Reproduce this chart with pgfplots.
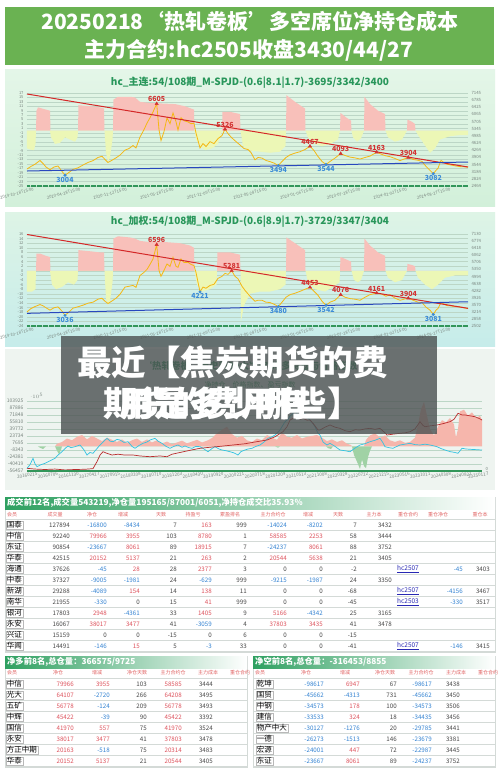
\documentclass[border=0pt]{standalone}
\usepackage{pgfplots}
\pgfplotsset{compat=1.18}
\usepackage{fontspec}
\setmainfont{Noto Sans CJK SC}
\definecolor{banner}{RGB}{106,178,82}
\definecolor{ttlg}{RGB}{40,150,90}
\definecolor{bgat}{RGB}{228,246,232}
\definecolor{bgab}{RGB}{210,240,218}
\definecolor{bgbt}{RGB}{222,244,230}
\definecolor{bgbb}{RGB}{198,236,234}
\definecolor{bgc}{RGB}{238,244,240}
\definecolor{gridc}{RGB}{188,214,198}
\definecolor{tickc}{RGB}{120,132,126}
\definecolor{areared}{RGB}{248,192,186}
\definecolor{areayel}{RGB}{236,247,182}
\definecolor{pricec}{RGB}{244,184,20}
\definecolor{trendr}{RGB}{212,40,40}
\definecolor{trendb}{RGB}{40,72,190}
\definecolor{barg}{RGB}{50,150,90}
\definecolor{mred}{RGB}{210,50,50}
\definecolor{mblue}{RGB}{60,140,215}
\definecolor{cyanl}{RGB}{50,195,225}
\definecolor{darkr}{RGB}{185,45,45}
\definecolor{pinka}{RGB}{246,182,172}
\definecolor{greena}{RGB}{160,210,165}
\definecolor{pred}{RGB}{222,82,92}
\definecolor{nblue}{RGB}{50,130,210}
\definecolor{zgray}{RGB}{70,70,70}
\definecolor{hdrred}{RGB}{225,100,100}
\definecolor{rulec}{RGB}{212,218,215}
\definecolor{thg}{RGB}{46,160,96}
\definecolor{linkc}{RGB}{40,40,180}
\definecolor{ovl}{RGB}{78,84,84}
\pgfplotsset{
 base/.style={scale only axis, clip=false, axis line style={draw=none}, tick style={draw=none},
   /pgf/number format/assume math mode=true, /pgf/number format/1000 sep={}},
 leftax/.style={base, ymajorgrids, grid style={gridc,line width=0.3pt},
   yticklabel style={font=\fontsize{4}{4}\selectfont, text=tickc}},
 rightax/.style={base, xtick=\empty, yticklabel pos=right,
   yticklabel style={font=\fontsize{4.3}{4.5}\selectfont, text=tickc}},
 redmk/.style={only marks, mark=triangle*, mark size=1.9pt, color=mred, point meta=y,
   nodes near coords={\pgfmathprintnumber[fixed,precision=0,1000 sep={}]{\pgfplotspointmeta}},
   every node near coord/.append style={font=\bfseries\fontsize{7}{7}\selectfont, text=mred, inner sep=1.5pt}},
 bluemk/.style={only marks, mark=*, mark size=1.3pt, color=mblue, point meta=y,
   nodes near coords={\pgfmathprintnumber[fixed,precision=0,1000 sep={}]{\pgfplotspointmeta}},
   nodes near coords align={below},
   every node near coord/.append style={font=\bfseries\fontsize{7}{7}\selectfont, text=mblue, inner sep=1.5pt}},
}
\newcommand\cv[1]{\ifnum#1<0 \textcolor{nblue}{#1}\else\ifnum#1>0 \textcolor{pred}{#1}\else\textcolor{zgray}{#1}\fi\fi}
\tikzset{num/.style={anchor=east, inner sep=0pt, font=\fontsize{6.2}{7}\selectfont, text=zgray},
 namec/.style={anchor=west, draw=gray!55, line width=0.3pt, inner xsep=0.8pt, inner ysep=0.4pt, font=\fontsize{7.5}{8}\selectfont},
 hdr/.style={inner sep=0pt, font=\fontsize{5}{5}\selectfont, text=hdrred},
 lnk/.style={inner sep=0pt, font=\fontsize{6.5}{7}\selectfont, text=linkc}}
\newcommand\rowAl[8]{%
 \node[namec] at (6,-#1) {#2};
 \node[num] at (70,-#1) {#3};
 \node[num] at (107,-#1) {\cv{#4}};
 \node[num] at (140,-#1) {\cv{#5}};
 \node[num] at (177,-#1) {#6};
 \node[num] at (212,-#1) {\cv{#7}};
 \node[num] at (247,-#1) {#8};}
\newcommand\rowAr[5]{%
 \node[num] at (287,-#1) {\cv{#2}};
 \node[num] at (323,-#1) {\cv{#3}};
 \node[num] at (357,-#1) {#4};
 \node[num] at (392,-#1) {#5};}
\newcommand\rowAh[4]{%
 \node[lnk] at (408,-#1) {\underline{#2}};
 \node[num] at (463,-#1) {\cv{#3}};
 \node[num] at (490,-#1) {#4};}
\newcommand\rowB[7]{%
 \node[namec] at (#1+6,-#2) {#3};
 \node[num] at (#1+74,-#2) {\cv{#4}};
 \node[num] at (#1+110,-#2) {\cv{#5}};
 \node[num] at (#1+147,-#2) {#6};
 \node[num] at (#1+182,-#2) {\cv{#7}};}
\begin{document}
\begin{tikzpicture}[x=1pt,y=1pt]
\useasboundingbox (0,0) rectangle (500,-772);
\fill[white] (0,0) rectangle (500,-772);
% ---------- banner
\fill[banner] (5,-7) rectangle (494,-65);
\node[text=white, font=\bfseries\fontsize{21}{22}\selectfont] at (250,-21.5) {20250218‘热轧卷板’多空席位净持仓成本};
\node[text=white, font=\bfseries\fontsize{21}{22}\selectfont] at (249,-50) {主力合约:hc2505收盘3430/44/27};
% ---------- chart 1
\shade[top color=bgat, bottom color=bgab] (5,-69) rectangle (495,-206);
\node[text=ttlg, font=\bfseries\fontsize{10}{11}\selectfont] at (250,-83) {hc\_主连:54/108期\_M-SPJD-(0.6|8.1|1.7)-3695/3342/3400};
\begin{axis}[leftax, at={(27pt,-186pt)}, anchor=south west, width=441pt, height=93pt,
 xmin=27, xmax=468, ymin=-25, ymax=17, ytick={-25,-23,...,17},
 xtick={34,80.7,127.3,174,220.7,267.3,314,360.7,407.3,450.7},
 xticklabels={2019-10-18T15:00,2020-04-28T15:00,2020-11-12T15:00,2021-05-28T15:00,2021-12-09T15:00,2022-05-28T15:00,2023-01-06T15:00,2023-07-28T15:00,2024-02-02T15:00,2024-08-27T15:00},
 xticklabel style={font=\fontsize{4.2}{4.5}\selectfont, text=tickc, rotate=15, anchor=north east, inner sep=1pt}]
\addplot[draw=none, fill=areared] coordinates {(27,0)(36,0)(36.5,9)(38,10.5)(42,10)(46,9.5)(50,9)(50.5,0)
 (78,0)(78.5,11.5)(90,11)(100,10.5)(104,10)(104.5,0)
 (113,0)(113.5,14)(118,15.3)(130,15.3)(135,15)(140,13)(150,12.5)(160,12.3)(175,12)(185,11)(194,9.5)(194.5,0)
 (222,0)(222.5,8.5)(230,8.5)(240,7.5)(240.5,0)
 (286,0)(286.5,16)(295,13)(305,10)(305.5,0)
 (340,0)(340.5,8)(346,6)(351,4.5)(351.5,0)
 (364,0)(364.5,15.3)(370,12)(378,9)(385,7.5)(385.5,0)
 (407,0)(407.5,5)(412,4)(415,3)(415.5,0)(468,0)};
\addplot[draw=none, fill=areayel] coordinates {(27,0)(27,-8)(30,-8.5)(34,-8.8)(35.5,-6)(36,0)
 (50,0)(51,-3)(55,-6)(60,-5.5)(65,-3)(70,-4)(75,-5)(77.5,-3)(78,0)
 (104.5,0)(106,-10)(108,-14)(110,-12)(112.5,-4)(113,0)
 (194.5,0)(196,-4)(200,-7)(205,-8.8)(212,-8)(218,-6)(222,0)
 (240.5,0)(243,-7)(250,-9)(260,-9.5)(270,-10)(280,-9.5)(285.5,-7)(286,0)
 (305.5,0)(308,-3)(315,-6)(322,-7)(330,-6)(338,-4)(340,0)
 (351.5,0)(353,-3)(357,-5)(361,-3.5)(364,0)
 (385.5,0)(388,-3)(395,-5)(402,-4)(407,0)
 (415.5,0)(418,-2)(424,-6)(430,-10)(435,-8)(440,-4)(450,-2.5)(460,-2)(468,-2)(468,0)};
\addplot[barg, line width=2pt, dash pattern=on 0.8pt off 0.4pt] coordinates {(27,-25)(468,-25)};
\end{axis}
\begin{axis}[rightax, at={(27pt,-186pt)}, anchor=south west, width=441pt, height=93pt,
 xmin=27, xmax=468, ymin=2464, ymax=7145,
 ytick={2464,2824,3184,3544,3904,4264,4624,4985,5345,5705,6065,6425,6785,7145}]
\addplot[pricec, line width=0.8pt] coordinates {(27,3320)(31,3450)(35,3560)(40,3750)(43,3600)(46,3420)(50,3280)(54,3420)(58,3470)(62,3200)(65,3004)(69,3150)(73,3300)(78,3380)(83,3520)(88,3650)(93,3740)(98,3900)(102,3960)(105,3800)(108,3650)(112,3760)(116,3880)(120,4020)(125,4270)(129,4350)(133,4500)(136,4380)(140,4930)(144,5300)(147,5630)(150,5900)(153,6190)(156.7,6605)(159,5300)(161,4750)(164,5200)(167,5890)(170,5600)(173,6140)(176,5700)(178,5280)(181,5900)(184,5750)(188,5690)(191,5600)(194,5620)(196,5130)(200,4380)(203,4600)(206,4450)(210,4700)(214,4600)(218,4850)(222,5000)(225,5326)(228,5100)(232,4880)(236,4700)(240,4530)(244,4350)(248,4300)(251,4150)(255,3780)(258,3900)(262,3870)(266,3750)(270,3690)(274,3620)(278.3,3494)(282,3700)(286,3900)(290,4030)(295,4120)(300,4190)(305,4300)(310,4467)(314,4250)(318,3950)(322,3700)(326,3544)(330,3700)(335,3870)(340.7,4093)(345,4000)(350,3920)(355,3880)(360,3820)(365,3900)(370,3970)(376.7,4163)(382,4050)(386,3980)(390,3940)(395,3850)(400,3740)(404,3820)(408.3,3904)(413,3800)(418,3760)(422,3700)(426,3450)(430,3250)(433.3,3082)(436,3250)(438,3360)(441,3750)(444,3650)(447,3560)(451,3520)(455,3480)(460,3440)(464,3430)(468,3410)};
\addplot[trendr, line width=1pt] coordinates {(27,7095)(468,3421)};
\addplot[trendb, line width=1pt] coordinates {(27,3219)(468,3672)};
\addplot[redmk] coordinates {(156.7,6605)(225,5326)(310,4467)(340.7,4093)(376.7,4163)(408.3,3904)};
\addplot[bluemk] coordinates {(65,3004)(278.3,3494)(326,3544)(433.3,3082)};
\end{axis}
% ---------- chart 2
\shade[top color=bgbt, bottom color=bgbb] (5,-212) rectangle (495,-346);
\node[text=ttlg, font=\bfseries\fontsize{10}{11}\selectfont] at (250,-222) {hc\_加权:54/108期\_M-SPJD-(0.6|8.9|1.7)-3729/3347/3404};
\begin{axis}[leftax, at={(27pt,-326pt)}, anchor=south west, width=441pt, height=92pt,
 xmin=27, xmax=468, ymin=-24, ymax=16, ytick={-24,-22,...,16},
 xtick={34,80.7,127.3,174,220.7,267.3,314,360.7,407.3,450.7},
 xticklabels={2019-10-18T15:00,2020-04-28T15:00,2020-11-12T15:00,2021-05-28T15:00,2021-12-09T15:00,2022-05-28T15:00,2023-01-06T15:00,2023-07-28T15:00,2024-02-02T15:00,2024-08-27T15:00},
 xticklabel style={font=\fontsize{4.2}{4.5}\selectfont, text=tickc, rotate=15, anchor=north east, inner sep=1pt}]
\addplot[draw=none, fill=areared] coordinates {(27,0)(36,0)(36.5,7.5)(40,7.5)(46,6.5)(50,6)(50.5,0)
 (78,0)(78.5,9)(90,8.5)(100,8)(104,8)(104.5,0)
 (113,0)(113.5,14)(118,15)(130,14.5)(135,14)(140,13)(150,12.5)(165,12.5)(180,12)(190,11)(194,10)(194.5,0)
 (217,0)(217.5,8)(230,8)(240,7)(240.5,0)
 (286,0)(286.5,14.5)(295,12)(305,9)(305.5,0)
 (340,0)(340.5,6)(346,5)(351,4)(351.5,0)
 (364,0)(364.5,14)(370,11)(378,8)(385,6.5)(385.5,0)
 (407,0)(407.5,3)(412,2.5)(415,2)(415.5,0)(468,0)};
\addplot[draw=none, fill=areayel] coordinates {(27,0)(27,-9)(32,-9)(35.5,-8)(36,0)
 (50,0)(52,-6)(56,-8)(62,-7)(68,-5)(74,-6)(77.5,-4)(78,0)
 (104.5,0)(106,-12)(108,-15)(110,-13)(112.5,-5)(113,0)
 (194.5,0)(197,-6)(202,-9)(210,-8)(216.5,-6)(217,0)
 (240.5,0)(241,-22)(244,-15)(250,-10)(260,-9)(270,-9)(280,-8)(285.5,-6)(286,0)
 (305.5,0)(308,-5)(315,-8)(325,-9)(333,-7)(339.5,-5)(340,0)
 (351.5,0)(354,-4)(358,-5)(361,-4)(364,0)
 (385.5,0)(388,-3)(395,-5)(402,-4)(407,0)
 (415.5,0)(418,-3)(425,-6)(432,-8)(438,-6)(445,-3)(455,-2)(468,-2)(468,0)};
\addplot[barg, line width=2pt, dash pattern=on 0.8pt off 0.4pt] coordinates {(27,-24)(468,-24)};
\end{axis}
\begin{axis}[rightax, at={(27pt,-326pt)}, anchor=south west, width=441pt, height=92pt,
 xmin=27, xmax=468, ymin=2502, ymax=7130,
 ytick={2502,2858,3214,3570,3926,4282,4638,4994,5350,5706,6062,6418,6774,7130}]
\addplot[pricec, line width=0.8pt] coordinates {(27,3214)(31,3380)(35,3480)(40,3583)(43,3520)(46,3420)(50,3299)(54,3420)(58,3463)(62,3250)(65,3036)(69,3200)(73,3400)(78,3470)(83,3550)(88,3650)(93,3700)(98,3850)(102,3900)(105,3750)(108,3633)(112,3760)(116,3900)(120,4100)(125,4460)(129,4500)(133,4544)(136,4450)(140,5043)(144,5200)(147,5350)(150,5600)(153,5874)(156.7,6596)(159,5300)(161,5000)(164,5300)(167,5625)(170,5500)(173,5954)(176,5500)(178,5456)(181,5874)(184,5700)(188,5705)(191,5600)(194,5540)(196,5200)(200,4221)(203,4460)(206,4400)(210,4544)(214,4600)(218,4900)(222,5000)(225,5150)(228,5100)(231.7,5281)(235,5000)(238,4878)(242,4500)(245,4296)(250,4000)(255,3747)(258,3800)(262,3797)(266,3700)(270,3683)(274,3600)(278.3,3480)(282,3700)(286,3950)(290,4079)(295,4150)(300,4246)(305,4350)(310,4453)(314,4250)(318,4046)(322,3750)(326,3542)(330,3700)(335,3797)(340.7,4076)(345,3950)(350,3881)(355,3850)(360,3797)(365,3950)(370,4079)(376.7,4161)(382,4100)(386,4000)(390,4079)(395,3900)(400,3797)(404,3850)(408.3,3904)(413,3800)(418,3700)(422,3683)(426,3450)(430,3299)(433.3,3081)(436,3300)(438,3384)(441,3683)(444,3600)(447,3530)(451,3513)(455,3480)(460,3463)(464,3420)(468,3384)};
\addplot[trendr, line width=1pt] coordinates {(27,7105)(468,3390)};
\addplot[trendb, line width=1pt] coordinates {(27,3139)(468,3722)};
\addplot[redmk] coordinates {(156.7,6596)(231.7,5281)(310,4453)(340.7,4076)(376.7,4161)(408.3,3904)};
\addplot[bluemk] coordinates {(65,3036)(200,4221)(278.3,3480)(326,3542)(433.3,3081)};
\end{axis}
% ---------- chart 3
\fill[bgc] (5,-349) rectangle (495,-490);
\node[text=ttlg, font=\bfseries\fontsize{9.5}{10}\selectfont] at (250,-366) {‘热轧卷板’历史前20大净空/净多持仓与价格指数};
\node[text=ttlg, font=\fontsize{7}{8}\selectfont] at (250,-385) {净持仓、价格指数、盈亏指数};
\begin{axis}[leftax, at={(27pt,-471pt)}, anchor=south west, width=455pt, height=70pt,
 xmin=27, xmax=482, ymin=-56457, ymax=103925,
 ytick={-56457,-40419,-24381,-8343,7695,23734,39772,55810,71848,87886,103925},
 yticklabels={-56457,-40419,-24381,-8343,7695,23734,39772,55810,71848,87886,103925},
 yticklabel style={font=\fontsize{5}{5}\selectfont},
 xtick={27,47.7,68.4,89.0,109.7,130.4,151.1,171.8,192.5,213.1,233.8,254.5,275.2,295.9,316.6,337.2,357.9,378.6,399.3,420.0,440.7,461.3,478},
 xticklabels={20160215,20160706,20161130,20170427,20170915,20180208,20180710,20181203,20190430,20190920,20200221,20200718,20201209,20210513,20211008,20220328,20220722,20221215,20230516,20231011,20240308,20240822,20250117},
 xticklabel style={font=\fontsize{4.6}{5}\selectfont, text=tickc, rotate=8, inner sep=1pt, yshift=-1.5pt}]
\addplot[draw=none, fill=pinka] coordinates {(55,0)(57,6000)(62,10000)(67,18000)(72,14000)(77,22000)(82,26000)(87,16000)(92,24000)(97,18000)(102,12000)(107,20000)(112,15000)(117,10000)(122,16000)(127,8000)(132,14000)(137,18000)(142,10000)(147,16000)(152,9000)(157,14000)(162,7000)(167,11000)(172,5000)(177,9000)(182,13000)(187,7000)(192,11000)(197,15000)(202,9000)(207,13000)(212,19000)(217,30000)(222,38000)(227,45000)(232,28000)(237,20000)(242,24000)(247,14000)(252,10000)(257,18000)(262,14000)(267,26000)(272,20000)(277,15000)(282,32000)(287,22000)(292,20000)(297,26000)(302,18000)(307,22000)(312,24000)(317,26000)(322,20000)(327,12000)(332,16000)(337,10000)(342,14000)(347,6000)(351,3000)(352,0)(364,0)(366,15000)(370,25000)(375,30000)(380,20000)(385,25000)(390,14000)(395,10000)(400,14000)(405,8000)(410,10000)(415,20000)(418,50000)(421,85000)(424,102000)(427,70000)(430,40000)(434,25000)(438,45000)(442,60000)(446,55000)(450,65000)(454,50000)(456,20000)(458,40000)(460,80000)(464,84000)(468,70000)(472,78000)(476,65000)(480,70000)(482,60000)(482,0)};
\addplot[draw=none, fill=greena] coordinates {(38,0)(40,-3000)(43,-6000)(45,-2000)(46,0)(55,0)(57,-10000)(59,-18000)(61,-8000)(62,0)(275,0)(278,-3000)(280,0)(326,0)(328,-4000)(331,-6000)(333,0)(352,0)(354,-20000)(357,-35000)(360,-52000)(362,-30000)(364,-45000)(366,-50000)(368,-25000)(370,-10000)(372,0)};
\addplot[cyanl, line width=0.7pt] coordinates {(27,-50280)(30,-42000)(33,-27360)(35,-40000)(37,-46600)(41,-42000)(45,-38820)(50,-33000)(55,-27360)(58,-20000)(62,-12240)(65,-5000)(68,825)(71,-3000)(75,-780)(80,3110)(84,-8000)(87,-19800)(90,-14000)(93,-15900)(97,-5000)(100,3110)(104,12000)(107,18450)(110,12000)(113,10700)(117,16000)(120,14570)(124,9000)(128,10700)(132,0)(135,-4450)(139,2000)(143,7000)(147,10000)(150,14570)(155,18450)(158,12000)(162,7000)(166,0)(170,-4450)(174,0)(178,3110)(182,-2000)(185,825)(189,-3000)(192,-4450)(196,0)(200,-780)(204,-6000)(208,-12240)(212,-5000)(215,-780)(219,-6000)(222,-8340)(226,-10000)(230,-12240)(234,-15000)(238,-19800)(241,-12000)(245,-8340)(248,-6000)(252,-4450)(256,0)(260,3110)(264,10000)(268,18450)(272,22000)(275,26000)(280,37480)(285,56500)(288,62000)(290,69560)(293,75000)(295,81000)(298,72000)(300,67950)(303,72000)(305,75750)(308,66000)(310,60400)(313,52000)(315,45050)(318,30000)(320,26000)(323,10000)(327,3110)(330,7000)(335,0)(340,-8340)(345,-10000)(350,-12240)(355,-4000)(360,3110)(365,6000)(370,10700)(375,14000)(380,18450)(383,8000)(385,-780)(389,-3000)(393,-4450)(397,0)(400,3110)(405,5000)(410,7000)(415,4000)(420,3110)(425,5000)(430,3110)(434,1000)(437,-780)(441,-5000)(445,-8340)(450,-12000)(455,-14000)(458,-15900)(462,-4450)(466,-6000)(470,-6740)(476,-7500)(482,-8340)};
\addplot[darkr, line width=0.7pt] coordinates {(27,-50280)(35,-52000)(45,-53000)(55,-52000)(65,-54000)(75,-53000)(85,-52500)(93,-51000)(97,-35000)(100,-20000)(103,-12240)(107,-16000)(112,-19800)(118,-18000)(125,-20000)(133,-19800)(140,-22000)(150,-23700)(160,-22000)(167,-23700)(172,-18000)(180,-14000)(190,-9000)(200,-4450)(210,-2000)(220,0)(233,3110)(245,6000)(255,10000)(267,14570)(275,22000)(283,33600)(287,45000)(290,60400)(294,65000)(297,67950)(300,62000)(303,64300)(307,60000)(310,60400)(314,50000)(318,37480)(320,37480)(325,44000)(330,48930)(335,44000)(340,41300)(345,36000)(350,33600)(355,38000)(360,37480)(365,40000)(370,41300)(375,39000)(380,41300)(384,33000)(387,26000)(393,28000)(400,29900)(405,31000)(410,33600)(415,40000)(420,56500)(423,48000)(425,45050)(430,47000)(437,48930)(443,52000)(450,56500)(454,62000)(458,75750)(462,72000)(465,71850)(470,70000)(475,67950)(479,64000)(482,60400)};
\addplot[barg, line width=2.2pt] coordinates {(27,-56457)(482,-56457)};
\end{axis}
\begin{axis}[rightax, at={(27pt,-471pt)}, anchor=south west, width=455pt, height=70pt,
 xmin=27, xmax=482, ymin=0, ymax=100, ytick={0},
 yticklabel style={yshift=2pt}]
\addplot[draw=none] coordinates {(27,0)};
\end{axis}
% overlay
\fill[ovl, opacity=0.82] (61,-336) rectangle (437,-434);
\node[anchor=west, text=white, inner sep=0pt, font=\bfseries\fontsize{34.5}{36}\selectfont] at (77,-362) {最近【焦炭期货的费};
\node[anchor=east, text=white, inner sep=0pt, font=\bfseries\fontsize{34.5}{36}\selectfont] at (362,-403) {用是多少哪些】};
\node[anchor=west, text=white, inner sep=0pt, font=\bfseries\fontsize{34.5}{36}\selectfont] at (103,-403) {期货的费用有};
% ---------- table 1
\draw[rulec, line width=0.4pt] (5,-497) rectangle (495,-652);
\shade[left color=thg, middle color=thg!75!white, right color=white] (5,-497) rectangle (495,-509);
\node[anchor=west, text=white, inner sep=0pt, font=\bfseries\fontsize{8.3}{9}\selectfont] at (7,-503) {成交前12名,成交量543219,净仓量195165/87001/6051,净持仓成交比35.93\%};
\foreach \k in {0,...,12} {\draw[rulec, line width=0.4pt] (5,-519.5-11*\k) -- (495,-519.5-11*\k);}
\foreach \xx/\tt in {12/会员,55/成交量,92/净仓,123/增减,161/天数,193/持盈亏,230/累盈排名,273/主力合约仓,308/增减,338/天数,374/主力本,408/重仓合约,438/重仓净仓,480/重仓本}
  {\node[hdr] at (\xx,-514.5) {\tt};}
\rowAl{525}{国泰}{127894}{-16800}{-8434}{7}{163}{999}\rowAr{525}{-14024}{-8202}{7}{3432}
\rowAl{536}{中信}{92240}{79966}{3955}{103}{8780}{1}\rowAr{536}{58585}{2253}{58}{3444}
\rowAl{547}{东证}{90854}{-23667}{8061}{89}{18915}{7}\rowAr{547}{-24237}{8061}{88}{3752}
\rowAl{558}{华泰}{42515}{20152}{5137}{21}{263}{2}\rowAr{558}{20544}{5638}{21}{3405}
\rowAl{569}{海通}{37626}{-45}{28}{28}{2377}{3}\rowAr{569}{0}{0}{-2}{}\rowAh{569}{hc2507}{-45}{3403}
\rowAl{580}{中泰}{37327}{-9005}{-1981}{24}{-629}{999}\rowAr{580}{-9215}{-1987}{24}{3350}
\rowAl{591}{新湖}{29288}{-4089}{154}{14}{138}{11}\rowAr{591}{0}{0}{-68}{}\rowAh{591}{hc2507}{-4156}{3467}
\rowAl{602}{南华}{21955}{-330}{0}{15}{41}{999}\rowAr{602}{0}{0}{-45}{}\rowAh{602}{hc2503}{-330}{3517}
\rowAl{613}{银河}{17803}{2948}{-4361}{33}{1405}{9}\rowAr{613}{5166}{-4342}{25}{3165}
\rowAl{624}{永安}{16067}{38017}{3477}{41}{-3059}{4}\rowAr{624}{37803}{3435}{41}{3478}
\rowAl{635}{兴证}{15159}{0}{0}{-15}{0}{6}\rowAr{635}{0}{0}{-15}{}
\rowAl{646}{华闻}{14491}{-146}{15}{5}{-3}{33}\rowAr{646}{0}{0}{-41}{}\rowAh{646}{hc2507}{-146}{3415}
% ---------- table 2 and 3
\foreach \ox/\ttl in {0/{净多前8名,总仓量：366575/9725},248/{净空前8名,总仓量：-316453/8855}} {
  \draw[rulec, line width=0.4pt] (\ox+5,-656) rectangle (\ox+247,-767);
  \shade[left color=thg, middle color=thg!70!white, right color=white] (\ox+5,-656) rectangle (\ox+247,-668);
  \node[anchor=west, text=white, inner sep=0pt, font=\bfseries\fontsize{8.3}{9}\selectfont] at (\ox+7,-662) {\ttl};
  \foreach \k in {0,...,8} {\draw[rulec, line width=0.4pt] (\ox+5,-678.5-11*\k) -- (\ox+247,-678.5-11*\k);}
  \foreach \xx/\tt in {12/会员,58/净仓,97/增减,137/净仓天数,173/主力合约仓,208/主力成本,240/重仓合约}
    {\node[hdr] at (\ox+\xx,-673) {\tt};}
}
\rowB{0}{684}{中信}{79966}{3955}{103}{58585}\node[num] at (213,-684) {3444};
\rowB{0}{695}{光大}{64107}{-2720}{266}{64208}\node[num] at (213,-695) {3495};
\rowB{0}{706}{五矿}{56778}{-124}{209}{56778}\node[num] at (213,-706) {3493};
\rowB{0}{717}{中辉}{45422}{-39}{90}{45422}\node[num] at (213,-717) {3392};
\rowB{0}{728}{国信}{41970}{557}{75}{41970}\node[num] at (213,-728) {3524};
\rowB{0}{739}{永安}{38017}{3477}{41}{37803}\node[num] at (213,-739) {3478};
\rowB{0}{750}{方正中期}{20163}{-518}{75}{20314}\node[num] at (213,-750) {3483};
\rowB{0}{761}{华泰}{20152}{5137}{21}{20544}\node[num] at (213,-761) {3405};
\rowB{250}{684}{乾坤}{-98617}{6947}{67}{-98617}\node[num] at (460,-684) {3438};
\rowB{250}{695}{国贸}{-45662}{-4313}{731}{-45662}\node[num] at (460,-695) {3450};
\rowB{250}{706}{中钢}{-34573}{178}{100}{-34573}\node[num] at (460,-706) {3506};
\rowB{250}{717}{建信}{-33533}{324}{18}{-34435}\node[num] at (460,-717) {3456};
\rowB{250}{728}{物产中大}{-30127}{-1276}{20}{-29785}\node[num] at (460,-728) {3441};
\rowB{250}{739}{一德}{-26273}{-1513}{146}{-23679}\node[num] at (460,-739) {3381};
\rowB{250}{750}{宏源}{-24001}{447}{72}{-22987}\node[num] at (460,-750) {3445};
\rowB{250}{761}{东证}{-23667}{8061}{89}{-24237}\node[num] at (460,-761) {3752};
\end{tikzpicture}
\end{document}
